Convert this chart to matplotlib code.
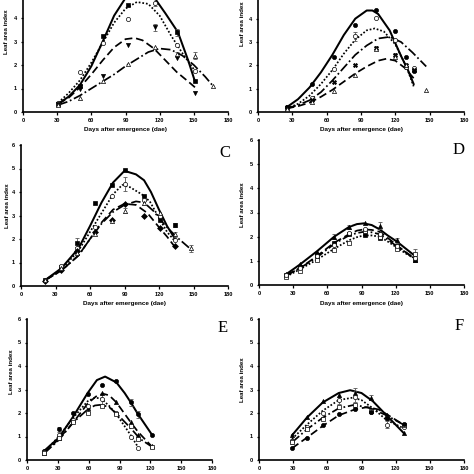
import matplotlib
matplotlib.use("Agg")
import matplotlib.pyplot as plt

plt.rcParams['font.family'] = ['Liberation Sans', 'DejaVu Sans']

# ---------------- data ----------------
XTICKS = [0, 30, 60, 90, 120, 150, 180]
YTICKS = [0, 1, 2, 3, 4, 5, 6]
YTICKS_TOP = [0, 1, 2, 3, 4]
XLABEL = "Days after emergence (dae)"
YLABEL = "Leaf area index"

# Panel A
A_obs_x = [31, 50, 70, 92, 116, 135, 151]
A_obs_x2 = [31, 50, 70, 92, 116, 135, 151, 167]
A_solid_obs = [0.35, 1.1, 3.25, 4.55, 4.9, 3.4, 1.3]
A_dot_obs = [0.4, 1.7, 2.95, 3.95, 4.65, 2.85, 1.75]
A_dash_obs = [0.35, 1.0, 1.55, 2.85, 3.6, 2.3, 0.8]
A_dd_obs = [0.3, 0.6, 1.3, 2.05, 2.75, 2.45, 2.4, 1.1]
A_solid_err = [0, 0, 0, 0, 0, 0.15, 0]
A_dot_err = [0, 0, 0, 0, 0.15, 0, 0]
A_dash_err = [0, 0, 0, 0, 0.15, 0, 0]
A_dd_err = [0, 0, 0, 0, 0, 0.1, 0.15, 0]
A_solid_fx = [31, 40, 50, 60, 70, 80, 90, 100, 110, 117, 125, 136, 145, 151]
A_solid_fy = [0.35, 0.65, 1.15, 1.95, 3.0, 4.1, 4.85, 5.15, 5.05, 4.75, 4.2, 3.4, 2.2, 1.3]
A_dot_fx = [31, 40, 50, 60, 70, 80, 90, 100, 110, 120, 130, 140, 151]
A_dot_fy = [0.4, 0.8, 1.35, 2.1, 2.95, 3.8, 4.4, 4.68, 4.6, 4.1, 3.25, 2.5, 1.75]
A_dash_fx = [31, 40, 50, 60, 70, 80, 90, 98, 105, 115, 125, 135, 145, 151]
A_dash_fy = [0.35, 0.6, 1.05, 1.6, 2.2, 2.75, 3.1, 3.15, 3.05, 2.7, 2.2, 1.7, 1.3, 1.05]
A_dd_fx = [31, 40, 50, 60, 70, 80, 90, 100, 110, 120, 130, 140, 150, 160, 167]
A_dd_fy = [0.3, 0.45, 0.7, 1.0, 1.3, 1.6, 1.95, 2.25, 2.55, 2.7, 2.65, 2.4, 2.0, 1.5, 1.1]

# Panel B
B_obs_x = [25, 47, 66, 85, 103, 120, 129, 136]
B_obs_x2 = [25, 47, 66, 85, 103, 120, 129, 147]
B_solid_obs = [0.2, 1.2, 2.35, 3.75, 4.38, 3.48, 2.35, 1.75]
B_dot_obs = [0.15, 0.6, 1.85, 3.25, 4.05, 3.1, 1.95, 1.9]
B_dd_obs = [0.2, 0.5, 1.3, 2.0, 2.75, 2.45, 2.0, 1.8]
B_dash_obs = [0.15, 0.45, 0.9, 1.6, 2.7, 2.35, 2.0, 0.95]
B_dot_err = [0, 0, 0, 0.2, 0, 0, 0, 0]
B_dd_err = [0, 0, 0, 0, 0.1, 0.1, 0, 0.1]
B_solid_fx = [25, 35, 45, 55, 65, 75, 85, 95, 100, 105, 115, 125, 131, 136]
B_solid_fy = [0.2, 0.55, 1.05, 1.7, 2.45, 3.3, 4.0, 4.35, 4.35, 4.2, 3.5, 2.4, 1.8, 1.2]
B_dot_fx = [25, 35, 45, 55, 65, 75, 85, 95, 102, 110, 120, 130, 136]
B_dot_fy = [0.15, 0.35, 0.7, 1.2, 1.8, 2.5, 3.1, 3.5, 3.58, 3.45, 2.9, 1.9, 1.1]
B_dd_fx = [25, 35, 45, 55, 65, 75, 85, 95, 105, 115, 125, 135, 147]
B_dd_fy = [0.15, 0.3, 0.5, 0.85, 1.35, 1.9, 2.45, 2.85, 3.15, 3.22, 3.0, 2.55, 1.95]
B_dash_fx = [25, 35, 45, 55, 65, 75, 85, 95, 105, 112, 120, 128, 136]
B_dash_fy = [0.15, 0.25, 0.4, 0.65, 0.95, 1.3, 1.65, 1.95, 2.2, 2.28, 2.2, 1.9, 1.45]

# Panel C
C_obs_x = [21, 35, 49, 64, 79, 90, 107, 121, 134]
C_obs_x2 = [21, 35, 49, 64, 79, 90, 107, 121, 134, 148]
C_solid_obs = [0.25, 0.8, 1.85, 3.55, 4.3, 4.93, 3.85, 2.8, 2.6]
C_dot_obs = [0.25, 0.85, 1.6, 2.5, 3.85, 4.35, 3.65, 3.0, 1.95]
C_dash_obs = [0.2, 0.7, 1.5, 2.3, 2.8, 3.5, 3.0, 2.45, 1.7]
C_dd_obs = [0.25, 0.75, 1.4, 2.2, 2.75, 3.2, 3.55, 3.1, 2.2, 1.6]
C_solid_err = [0, 0, 0.2, 0, 0, 0, 0, 0, 0.1]
C_dot_err = [0, 0, 0, 0, 0, 0.3, 0.2, 0, 0]
C_dd_err = [0, 0, 0, 0, 0, 0.1, 0, 0, 0.1, 0.15]
C_solid_fx = [21, 35, 50, 60, 70, 80, 90, 100, 107, 113, 120, 127, 134]
C_solid_fy = [0.25, 0.75, 1.6, 2.55, 3.55, 4.4, 4.9, 4.75, 4.5, 4.0, 3.25, 2.55, 2.0]
C_dot_fx = [21, 35, 50, 60, 70, 80, 88, 95, 105, 112, 120, 127, 134]
C_dot_fy = [0.25, 0.7, 1.5, 2.3, 3.1, 3.9, 4.3, 4.2, 3.9, 3.6, 2.9, 2.3, 1.9]
C_dash_fx = [21, 35, 50, 60, 70, 80, 90, 100, 110, 120, 127, 134]
C_dash_fy = [0.25, 0.65, 1.3, 2.0, 2.7, 3.25, 3.5, 3.45, 3.1, 2.5, 2.1, 1.65]
C_dd_fx = [21, 35, 50, 60, 70, 80, 90, 100, 107, 115, 125, 135, 148]
C_dd_fy = [0.25, 0.65, 1.3, 2.0, 2.65, 3.15, 3.45, 3.6, 3.55, 3.2, 2.6, 2.1, 1.55]

# Panel D
D_obs_x = [24, 36, 51, 66, 79, 93, 106, 121, 137]
D_solid_obs = [0.45, 0.85, 1.35, 2.0, 2.4, 2.55, 2.45, 1.85, 1.05]
D_dash_obs = [0.4, 0.75, 1.25, 1.75, 2.1, 2.05, 1.95, 1.6, 1.05]
D_dot_obs = [0.35, 0.6, 1.05, 1.45, 1.75, 2.25, 2.0, 1.5, 1.3]
D_dd_obs = [0.4, 0.7, 1.2, 1.65, 2.15, 2.3, 2.1, 1.6, 1.1]
D_solid_err = [0, 0, 0, 0.1, 0.1, 0, 0.15, 0.1, 0]
D_dot_err = [0, 0, 0, 0, 0, 0, 0, 0, 0.2]
D_fx = [24, 36, 51, 66, 79, 86, 92, 99, 106, 113, 121, 129, 137]
D_solid_fy = [0.45, 0.85, 1.4, 2.0, 2.4, 2.52, 2.55, 2.48, 2.3, 2.05, 1.8, 1.5, 1.2]
D_dash_fy = [0.4, 0.7, 1.2, 1.75, 2.1, 2.25, 2.3, 2.28, 2.2, 1.95, 1.65, 1.35, 1.05]
D_dot_fy = [0.35, 0.65, 1.05, 1.5, 1.85, 1.98, 2.05, 2.05, 2.0, 1.8, 1.55, 1.3, 1.1]
D_dd_fy = [0.4, 0.7, 1.15, 1.7, 2.05, 2.15, 2.2, 2.18, 2.1, 1.88, 1.6, 1.35, 1.1]

# Panel E
E_obs_x = [17, 31, 45, 59, 73, 87, 101, 108, 122]
E_obs_x3 = [17, 31, 45, 59, 73, 87, 101, 108]
E_solid_obs = [0.4, 1.3, 2.0, 2.8, 3.2, 3.35, 2.45, 1.95, 1.05]
E_dash_obs = [0.3, 0.95, 1.7, 2.2, 2.85, 2.45, 1.6, 1.05, 0.6]
E_dot_obs = [0.35, 1.05, 1.7, 2.3, 2.6, 2.0, 1.0, 0.5]
E_dd_obs = [0.3, 0.95, 1.6, 2.0, 2.3, 1.95, 1.45, 0.9, 0.55]
E_solid_err = [0, 0.1, 0, 0, 0, 0, 0.15, 0.15, 0]
E_dash_err = [0, 0, 0, 0.15, 0, 0, 0, 0, 0]
E_dot_err = [0, 0, 0, 0, 0.2, 0, 0, 0]
E_solid_fx = [17, 31, 45, 59, 68, 76, 87, 95, 101, 108, 115, 122]
E_solid_fy = [0.4, 0.95, 1.85, 2.85, 3.4, 3.55, 3.3, 2.85, 2.45, 1.95, 1.5, 1.05]
E_dash_fx = [17, 31, 45, 59, 67, 74, 80, 87, 101, 108, 122]
E_dash_fy = [0.3, 0.9, 1.6, 2.4, 2.7, 2.82, 2.75, 2.45, 1.6, 1.2, 0.55]
E_dot_fx = [17, 31, 45, 59, 66, 72, 80, 87, 101, 108]
E_dot_fy = [0.35, 1.0, 1.8, 2.5, 2.65, 2.62, 2.3, 1.95, 1.05, 0.55]
E_dd_fx = [17, 31, 45, 59, 66, 72, 80, 90, 101, 110, 122]
E_dd_fy = [0.3, 0.85, 1.6, 2.15, 2.32, 2.35, 2.25, 1.85, 1.35, 0.9, 0.55]

# Panel F
F_obs_x = [29, 42, 56, 70, 84, 98, 112, 127]
F_solid_obs = [1.05, 1.85, 2.5, 2.75, 2.85, 2.65, 1.9, 1.15]
F_dot_obs = [0.8, 1.4, 2.0, 2.55, 2.7, 2.05, 1.5, 1.4]
F_dd_obs = [0.75, 1.3, 1.75, 2.25, 2.35, 2.1, 1.8, 1.5]
F_dash_obs = [0.5, 0.95, 1.5, 1.95, 2.15, 2.05, 1.8, 1.55]
F_solid_err = [0, 0, 0, 0, 0.2, 0.1, 0, 0]
F_dot_err = [0.1, 0, 0, 0.15, 0.25, 0, 0.15, 0]
F_solid_fx = [29, 42, 56, 70, 80, 90, 100, 112, 127]
F_solid_fy = [1.05, 1.8, 2.45, 2.85, 2.97, 2.85, 2.5, 1.9, 1.15]
F_dot_fx = [29, 42, 56, 70, 82, 90, 100, 112, 127]
F_dot_fy = [0.9, 1.5, 2.1, 2.55, 2.65, 2.55, 2.2, 1.7, 1.35]
F_dd_fx = [29, 42, 56, 70, 84, 98, 112, 127]
F_dd_fy = [0.75, 1.3, 1.8, 2.2, 2.35, 2.2, 1.9, 1.5]
F_dash_fx = [29, 42, 56, 70, 84, 95, 105, 112, 127]
F_dash_fy = [0.5, 0.95, 1.45, 1.9, 2.15, 2.25, 2.15, 1.95, 1.5]

# ---------------- styles ----------------
LS = {
    "solid": "-",
    "dot": (0, (1.0, 1.1)),
    "dash": (0, (4.5, 2.2)),
    "dd": (0, (5.5, 1.6, 1.0, 1.6)),
}

panels = [
    ("A", [23, 112, 205, 141], [
        ("solid", A_solid_fx, A_solid_fy, A_obs_x, A_solid_obs, "s", True, A_solid_err),
        ("dot", A_dot_fx, A_dot_fy, A_obs_x, A_dot_obs, "o", False, A_dot_err),
        ("dash", A_dash_fx, A_dash_fy, A_obs_x, A_dash_obs, "v", True, A_dash_err),
        ("dd", A_dd_fx, A_dd_fy, A_obs_x2, A_dd_obs, "^", False, A_dd_err),
    ], True),
    ("B", [258, 112, 206, 140], [
        ("solid", B_solid_fx, B_solid_fy, B_obs_x, B_solid_obs, "o", True, None),
        ("dot", B_dot_fx, B_dot_fy, B_obs_x, B_dot_obs, "o", False, B_dot_err),
        ("dd", B_dd_fx, B_dd_fy, B_obs_x, B_dd_obs, "X", True, B_dd_err),
        ("dash", B_dash_fx, B_dash_fy, B_obs_x2, B_dash_obs, "^", False, None),
    ], True),
    ("C", [21, 286, 207, 141], [
        ("solid", C_solid_fx, C_solid_fy, C_obs_x, C_solid_obs, "s", True, C_solid_err),
        ("dot", C_dot_fx, C_dot_fy, C_obs_x, C_dot_obs, "o", False, C_dot_err),
        ("dash", C_dash_fx, C_dash_fy, C_obs_x, C_dash_obs, "D", True, None),
        ("dd", C_dd_fx, C_dd_fy, C_obs_x2, C_dd_obs, "^", False, C_dd_err),
    ], True),
    ("D", [259, 285, 205, 145], [
        ("solid", D_fx, D_solid_fy, D_obs_x, D_solid_obs, "^", True, D_solid_err),
        ("dash", D_fx, D_dash_fy, D_obs_x, D_dash_obs, "s", True, None),
        ("dot", D_fx, D_dot_fy, D_obs_x, D_dot_obs, "s", False, D_dot_err),
        ("dd", D_fx, D_dd_fy, D_obs_x, D_dd_obs, "o", False, None),
    ], True),
    ("E", [27, 460, 185, 141], [
        ("solid", E_solid_fx, E_solid_fy, E_obs_x, E_solid_obs, "o", True, E_solid_err),
        ("dash", E_dash_fx, E_dash_fy, E_obs_x, E_dash_obs, "^", True, E_dash_err),
        ("dot", E_dot_fx, E_dot_fy, E_obs_x3, E_dot_obs, "o", False, E_dot_err),
        ("dd", E_dd_fx, E_dd_fy, E_obs_x, E_dd_obs, "s", False, None),
    ], False),
    ("F", [259, 460, 205, 141], [
        ("solid", F_solid_fx, F_solid_fy, F_obs_x, F_solid_obs, "^", True, F_solid_err),
        ("dot", F_dot_fx, F_dot_fy, F_obs_x, F_dot_obs, "o", False, F_dot_err),
        ("dd", F_dd_fx, F_dd_fy, F_obs_x, F_dd_obs, "s", False, None),
        ("dash", F_dash_fx, F_dash_fy, F_obs_x, F_dash_obs, "o", True, None),
    ], False),
]

letter_pos = {"C": (225, 153), "D": (459, 150), "E": (223, 328), "F": (459, 326)}
ylab_pos = {"A": (7, 32), "B": (242, 24), "C": (8, 206), "D": (242, 205),
            "E": (12, 372), "F": (242, 380)}

W = H = 474
fig = plt.figure(figsize=(4.74, 4.74), dpi=100)

for letter, (px_left, px_y0, px_w, px_h6), series, show_xlabel in panels:
    rect = [px_left / W, (H - px_y0) / H, px_w / W, px_h6 / H]
    ax = fig.add_axes(rect)
    ax.set_xlim(0, 180)
    ax.set_ylim(0, 6)
    yt = YTICKS_TOP if letter in ("A", "B") else YTICKS
    ax.set_xticks(XTICKS)
    ax.set_yticks(yt)
    ax.set_xticklabels([str(t) for t in XTICKS], fontsize=4.1, fontweight="bold")
    ax.set_yticklabels([str(t) for t in yt], fontsize=4.1, fontweight="bold")
    for s in ("top", "right"):
        ax.spines[s].set_visible(False)
    for s in ("left", "bottom"):
        ax.spines[s].set_linewidth(1.2)
    ax.tick_params(axis="both", direction="out", length=1.8, width=0.9, pad=2.5)
    ax.patch.set_alpha(0)

    for style, fx, fy, ox, oy, mk, filled, err in series:
        ax.plot(fx, fy, color="black", linestyle=LS[style],
                lw=1.45 if style == "solid" else 1.25,
                clip_on=False, zorder=2)
        if err is not None:
            ex = [x for x, e in zip(ox, err) if e > 0]
            ey = [y for y, e in zip(oy, err) if e > 0]
            ee = [e for e in err if e > 0]
            ax.errorbar(ex, ey, yerr=ee, fmt="none", ecolor="#555555",
                        elinewidth=0.6, capsize=1.5, capthick=0.6, zorder=2.5,
                        clip_on=False)
        ax.plot(ox, oy, linestyle="none", marker=mk, markersize=3.0,
                markerfacecolor="black" if filled else "white",
                markeredgecolor="black", markeredgewidth=0.5, clip_on=False, zorder=3)

    lx, ly = ylab_pos[letter]
    fig.text(lx / W, 1 - ly / H, YLABEL, rotation=90, ha="center", va="center",
             fontsize=4.4, fontweight="bold")
    if show_xlabel:
        cx = (px_left + px_w / 2) / W
        yy = px_y0 + 18
        fig.text(cx, 1 - yy / H, XLABEL, ha="center", va="center",
                 fontsize=4.6, fontweight="bold")
    if letter in letter_pos:
        tx, ty = letter_pos[letter]
        fig.text(tx / W, 1 - ty / H, letter, ha="center", va="center",
                 fontsize=12, family=["Liberation Serif", "DejaVu Serif"])

fig.savefig("out.png", dpi=100)
